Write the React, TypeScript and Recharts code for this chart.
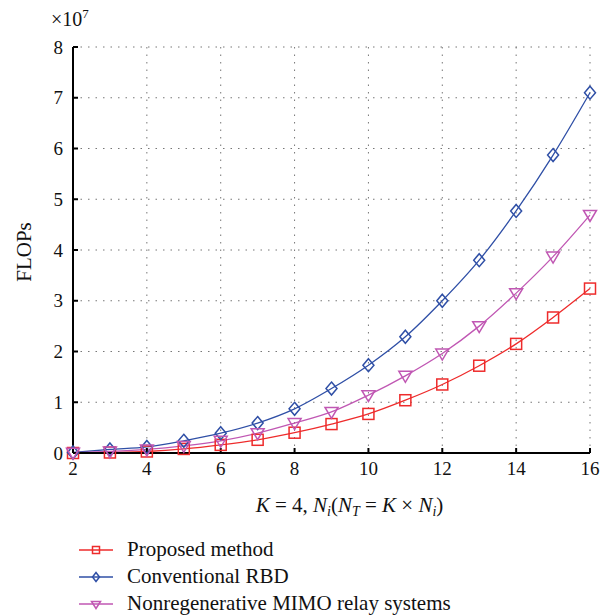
import { LineChart, Line, XAxis, YAxis, CartesianGrid } from 'recharts'

// N_i values (x axis)
const ni = [2, 3, 4, 5, 6, 7, 8, 9, 10, 11, 12, 13, 14, 15, 16]
// FLOPs, in units of 10^7
const proposed = [0.0, 0.01, 0.03, 0.08, 0.16, 0.26, 0.4, 0.57, 0.77, 1.04, 1.35, 1.72, 2.15, 2.67, 3.24]
const conventional = [0.01, 0.07, 0.12, 0.24, 0.39, 0.59, 0.87, 1.27, 1.73, 2.29, 3.0, 3.8, 4.77, 5.87, 7.1]
const nonregen = [0.005, 0.03, 0.07, 0.14, 0.24, 0.39, 0.59, 0.81, 1.14, 1.52, 1.96, 2.5, 3.15, 3.87, 4.69]
const xTicks = [2, 4, 6, 8, 10, 12, 14, 16]
const yTicks = [0, 1, 2, 3, 4, 5, 6, 7, 8]

const data = ni.map((n, i) => ({
  n,
  proposed: proposed[i],
  conventional: conventional[i],
  nonregen: nonregen[i],
}))

const FONT = '"Liberation Serif", "DejaVu Serif", serif'
const RED = '#ee2b2b'
const BLUE = '#2f4fa6'
const MAGENTA = '#c057b3'

type Shape = 'square' | 'diamond' | 'triangle'

const Marker = ({ cx, cy, shape, color, s = 5.5 }: { cx: number; cy: number; shape: Shape; color: string; s?: number }) => {
  if (cx == null || cy == null) return null
  if (shape === 'square')
    return <rect x={cx - s} y={cy - s} width={2 * s} height={2 * s} fill="none" stroke={color} strokeWidth={1.5} />
  if (shape === 'diamond')
    return (
      <polygon
        points={`${cx},${cy - s - 1} ${cx + s},${cy} ${cx},${cy + s + 1} ${cx - s},${cy}`}
        fill="none"
        stroke={color}
        strokeWidth={1.5}
      />
    )
  return (
    <polygon
      points={`${cx - s - 1},${cy - s + 1} ${cx + s + 1},${cy - s + 1} ${cx},${cy + s + 1}`}
      fill="none"
      stroke={color}
      strokeWidth={1.5}
    />
  )
}

const series: { key: string; name: string; color: string; shape: Shape }[] = [
  { key: 'proposed', name: 'Proposed method', color: RED, shape: 'square' },
  { key: 'conventional', name: 'Conventional RBD', color: BLUE, shape: 'diamond' },
  { key: 'nonregen', name: 'Nonregenerative MIMO relay systems', color: MAGENTA, shape: 'triangle' },
]

const XLabel = ({ viewBox }: any) => {
  const cx = viewBox.x + viewBox.width / 2 + 18
  const y = viewBox.y + 59
  return (
    <text x={cx} y={y} textAnchor="middle" fontFamily={FONT} fontSize={21} fill="#111">
      <tspan fontStyle="italic">K</tspan>
      <tspan> = 4, </tspan>
      <tspan fontStyle="italic">N</tspan>
      <tspan fontStyle="italic" fontSize={14} dy={4}>i</tspan>
      <tspan dy={-4}>(</tspan>
      <tspan fontStyle="italic">N</tspan>
      <tspan fontStyle="italic" fontSize={14} dy={4}>T</tspan>
      <tspan dy={-4}> = </tspan>
      <tspan fontStyle="italic">K</tspan>
      <tspan> × </tspan>
      <tspan fontStyle="italic">N</tspan>
      <tspan fontStyle="italic" fontSize={14} dy={4}>i</tspan>
      <tspan dy={-4}>)</tspan>
    </text>
  )
}

const YLabel = ({ viewBox }: any) => {
  const x = 31
  const y = viewBox.y + viewBox.height / 2 + 2
  return (
    <text x={x} y={y} transform={`rotate(-90 ${x} ${y})`} textAnchor="middle" fontFamily={FONT} fontSize={21} fill="#111">
      FLOPs
    </text>
  )
}

const tickStyle = { fontFamily: FONT, fontSize: 19, fill: '#111' }

export default function App() {
  return (
    <div style={{ position: 'absolute', left: 0, top: 0, width: 615, height: 616, background: '#fff' }}>
      <LineChart width={615} height={616} data={data} margin={{ top: 47, right: 25, bottom: 103, left: 0 }}>
        <CartesianGrid stroke="#777" strokeDasharray="1.5 6" verticalValues={xTicks} horizontalValues={yTicks} />
        <XAxis
          dataKey="n"
          type="number"
          domain={[2, 16]}
          ticks={xTicks}
          height={60}
          stroke="#000"
          strokeWidth={2}
          tickSize={-5}
          tickMargin={14}
          tick={tickStyle}
          label={<XLabel />}
        />
        <XAxis
          xAxisId="top"
          orientation="top"
          dataKey="n"
          type="number"
          domain={[2, 16]}
          ticks={xTicks}
          height={0}
          stroke="#000"
          strokeWidth={2}
          tickSize={-5}
          tick={false}
        />
        <YAxis
          type="number"
          domain={[0, 8]}
          ticks={yTicks}
          width={73}
          stroke="#000"
          strokeWidth={2}
          tickSize={-5}
          tickMargin={15}
          tick={tickStyle}
          label={<YLabel />}
        />
        <YAxis
          yAxisId="right"
          orientation="right"
          type="number"
          domain={[0, 8]}
          ticks={yTicks}
          width={0}
          stroke="#000"
          strokeWidth={2}
          tickSize={-5}
          tick={false}
        />
        {series.map((s) => (
          <Line
            key={s.key}
            dataKey={s.key}
            name={s.name}
            type="monotone"
            stroke={s.color}
            strokeWidth={1.3}
            isAnimationActive={false}
            dot={(p: any) => <Marker key={`${s.key}-${p.index}`} cx={p.cx} cy={p.cy} shape={s.shape} color={s.color} />}
          />
        ))}
      </LineChart>
      <div style={{ position: 'absolute', left: 51, top: 6, fontFamily: FONT, fontSize: 20, color: '#111' }}>
        ×10<sup style={{ fontSize: 13 }}>7</sup>
      </div>
      <div style={{ position: 'absolute', left: 78, top: 536 }}>
        {series.map((s) => (
          <div key={s.key} style={{ display: 'flex', alignItems: 'center', height: 27 }}>
            <svg width={36} height={20}>
              <line x1={1} y1={10} x2={35} y2={10} stroke={s.color} strokeWidth={1.3} />
              <Marker cx={18} cy={10} shape={s.shape} color={s.color} s={3.5} />
            </svg>
            <span style={{ marginLeft: 13, fontFamily: FONT, fontSize: 21, color: '#111' }}>{s.name}</span>
          </div>
        ))}
      </div>
    </div>
  )
}
